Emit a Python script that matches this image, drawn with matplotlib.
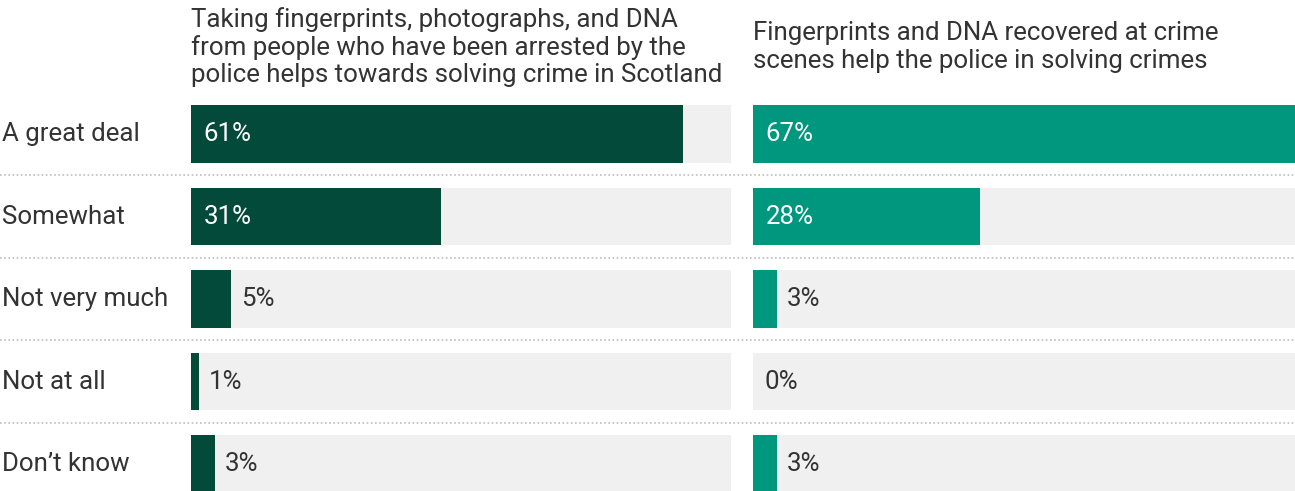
import matplotlib
matplotlib.use('Agg')
import matplotlib.pyplot as plt
from matplotlib.transforms import blended_transform_factory

# --- Data ---
CATEGORIES = ['A great deal', 'Somewhat', 'Not very much', 'Not at all', 'Don\u2019t know']
ARRESTED = [61, 31, 5, 1, 3]
CRIME_SCENES = [67, 28, 3, 0, 3]
TITLES = [
    'Taking fingerprints, photographs, and DNA\nfrom people who have been arrested by the\npolice helps towards solving crime in Scotland',
    'Fingerprints and DNA recovered at crime\nscenes help the police in solving crimes',
]

# --- Style ---
COLORS = ['#034A3B', '#00977F']
BG_GRAY = '#F0F0F0'
TEXT = '#333333'
X_MAX = 67
BAR_H = 0.70
FS = 18.6

plt.rcParams['font.family'] = ['Roboto', 'DejaVu Sans']

fig = plt.figure(figsize=(12.95, 4.91), dpi=100)
W, H = 1295, 491

# axes positions in pixels: left, right, top, bottom of the row band
row_top, row_bot = 92.75, 505.25
panels = [(191, 731), (753, 1295)]

axes = []
for (x0, x1), vals, color, title in zip(panels, [ARRESTED, CRIME_SCENES], COLORS, TITLES):
    ax = fig.add_axes([x0 / W, 1 - row_bot / H, (x1 - x0) / W, (row_bot - row_top) / H])
    ys = list(range(len(CATEGORIES)))
    ax.barh(ys, [X_MAX] * len(ys), height=BAR_H, color=BG_GRAY, zorder=1)
    ax.barh(ys, vals, height=BAR_H, color=color, zorder=2)
    for y, v in zip(ys, vals):
        if v >= 10:
            ax.annotate(f'{v}%', (0, y), xytext=(9, 0), textcoords='offset points',
                        ha='left', va='center', color='white', fontsize=FS, zorder=3)
        else:
            ax.annotate(f'{v}%', (v, y), xytext=(7 if v > 0 else 8.5, 0), textcoords='offset points',
                        ha='left', va='center', color=TEXT, fontsize=FS, zorder=3)
    ax.set_xlim(0, X_MAX)
    ax.set_ylim(len(CATEGORIES) - 0.5, -0.5)
    ax.axis('off')
    fig.text(x0 / W, 1 - 47 / H, title, ha='left', va='center', fontsize=FS,
             color=TEXT, linespacing=1.16)
    axes.append(ax)

# row labels and dotted separators across the full width
ax = axes[0]
trans_lbl = blended_transform_factory(fig.transFigure, ax.transData)
for y, cat in enumerate(CATEGORIES):
    ax.text(2 / W, y, cat, transform=trans_lbl, ha='left', va='center',
            fontsize=FS, color=TEXT, clip_on=False)
for y in range(len(CATEGORIES) - 1):
    ax.plot([0, 1], [y + 0.5, y + 0.5], transform=trans_lbl, color='#BDBDBD',
            linestyle=(0, (1, 1.5)), linewidth=1.2, clip_on=False)

fig.savefig('out.png', dpi=100)
